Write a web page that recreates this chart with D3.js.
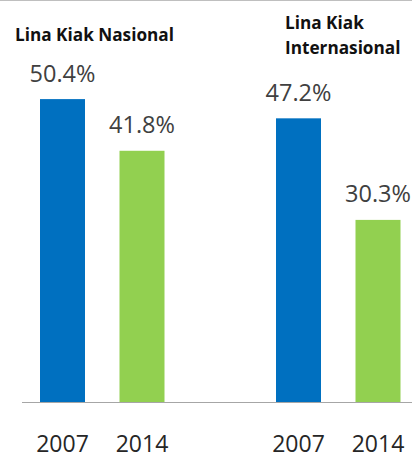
<!DOCTYPE html>
<html>
<head>
<meta charset="utf-8">
<script src="https://cdn.jsdelivr.net/npm/d3@7.9.0/dist/d3.min.js"></script>
<style>
  html, body { margin: 0; padding: 0; background: #fff; }
  svg { display: block; }
  text { font-family: "Open Sans", sans-serif; }
</style>
</head>
<body>
<div id="chart"></div>
<script>
const width = 412;
const height = 454;

// data
const groups = ['Nasional', 'Internasional'];
const groupTitles = [['Lina Kiak Nasional'], ['Lina Kiak', 'Internasional']];
const years = ['2007', '2014'];
const nasional = [50.4, 41.8];
const internasional = [47.2, 30.3];
const colors = ['#0070c0', '#92d050'];

const series = [nasional, internasional];
const rows = [];
groups.forEach((g, gi) => {
  years.forEach((yr, yi) => {
    rows.push({ group: g, year: yr, value: series[gi][yi] });
  });
});

const svg = d3.select('#chart').append('svg')
  .attr('width', width)
  .attr('height', height);

const baseY = 402;

const x0 = d3.scalePoint()
  .domain(groups)
  .range([102.25, 338.25]);

const x1 = d3.scaleBand()
  .domain(years)
  .range([-62.25, 62.25])
  .paddingInner(0.434);

const y = d3.scaleLinear()
  .domain([0, 50])
  .range([baseY, 101.5]);

const color = d3.scaleOrdinal().domain(years).range(colors);

// thin frame line at the top
svg.append('line')
  .attr('x1', 0).attr('x2', width)
  .attr('y1', 0.5).attr('y2', 0.5)
  .attr('stroke', '#bfbfbf');

const bars = svg.append('g').attr('class', 'bars');

bars.selectAll('rect')
  .data(rows)
  .join('rect')
  .attr('x', d => x0(d.group) + x1(d.year))
  .attr('y', d => y(d.value))
  .attr('width', x1.bandwidth())
  .attr('height', d => y(0) - y(d.value))
  .attr('fill', d => color(d.year));

svg.append('g').attr('class', 'labels')
  .selectAll('text')
  .data(rows)
  .join('text')
  .attr('x', d => x0(d.group) + x1(d.year) + x1.bandwidth() / 2)
  .attr('y', d => y(d.value) - 17.5)
  .attr('text-anchor', 'middle')
  .attr('font-size', 23.5)
  .attr('fill', '#404040')
  .text(d => d.value.toFixed(1) + '%');

// baseline
svg.append('line')
  .attr('x1', 22).attr('x2', width)
  .attr('y1', baseY + 0.5).attr('y2', baseY + 0.5)
  .attr('stroke', '#a6a6a6');

// year labels, one axis per group
groups.forEach(g => {
  const ax = svg.append('g')
    .attr('transform', `translate(${x0(g)},${baseY})`)
    .call(d3.axisBottom(x1).tickSize(0).tickPadding(34));
  ax.select('.domain').remove();
  ax.selectAll('text')
    .attr('font-family', '"Open Sans", sans-serif')
    .attr('font-size', 23)
    .attr('fill', '#262626');
});

// group titles
const titleX = [15, 285];
const titleY = [41, 29];
groupTitles.forEach((lines, i) => {
  const t = svg.append('text')
    .attr('x', titleX[i])
    .attr('y', titleY[i])
    .attr('font-size', 17.2)
    .attr('font-weight', 'bold')
    .attr('fill', '#111');
  lines.forEach((line, li) => {
    t.append('tspan')
      .attr('x', titleX[i])
      .attr('dy', li === 0 ? 0 : 25)
      .text(line);
  });
});
</script>
</body>
</html>
